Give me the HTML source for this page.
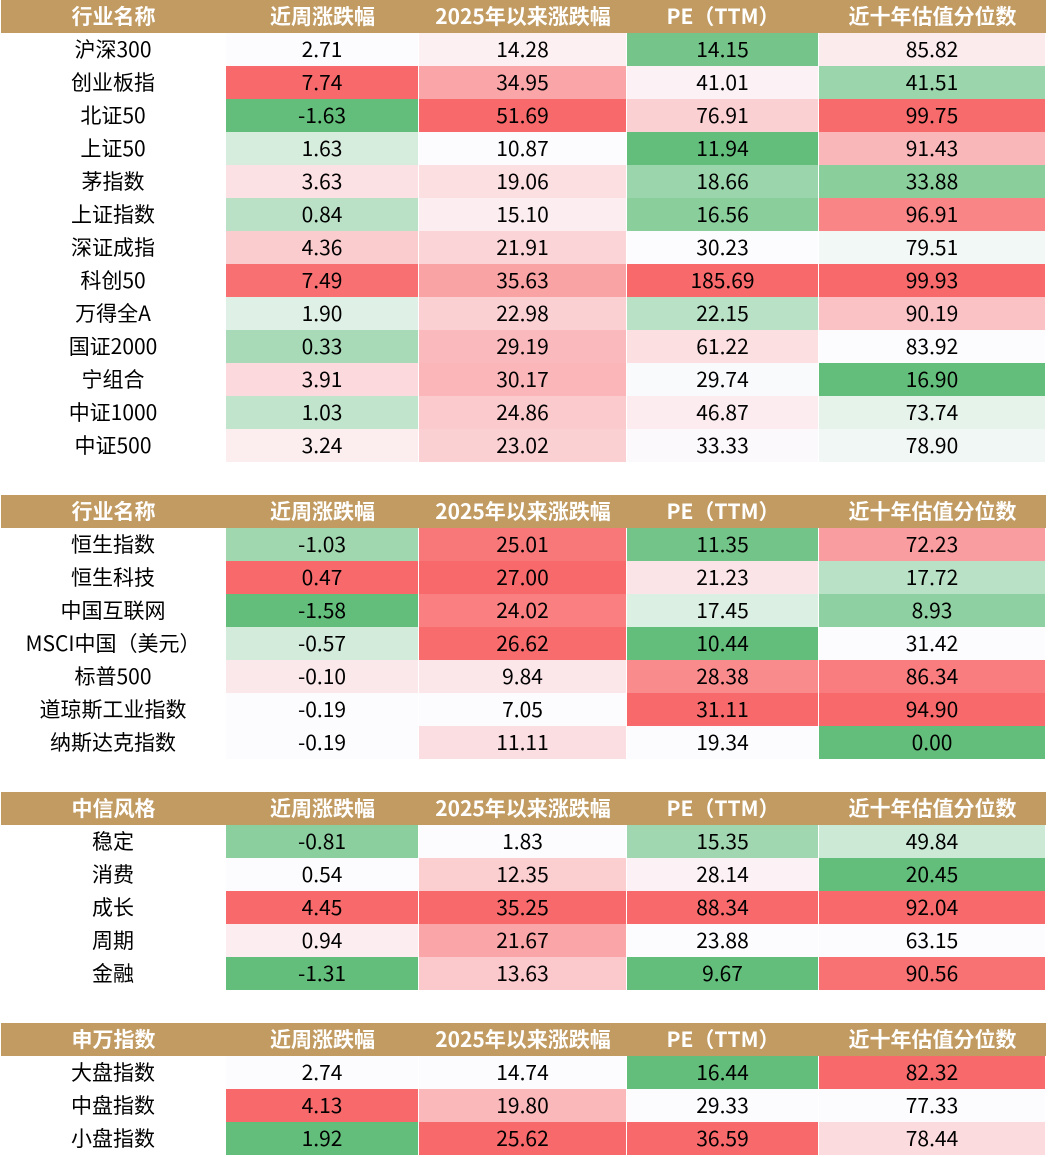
<!DOCTYPE html>
<html><head><meta charset="utf-8">
<style>
body{margin:0;width:1048px;height:1157px;background:#fff;position:relative;overflow:hidden;font-family:"Noto Sans CJK SC","Liberation Sans",sans-serif;}
.c{position:absolute;display:flex;align-items:center;justify-content:center;font-size:21px;line-height:1;color:#000;box-sizing:border-box;white-space:nowrap;}
.h{background:#c19b61;color:#fff;font-weight:bold;}
</style></head><body>
<div id="root"></div>
<script>
const colX=[1,226,419,627,819,1046];
const sectionTops=[0,495,792,1023];
const headers1=["行业名称","近周涨跌幅","2025年以来涨跌幅","PE（TTM）","近十年估值分位数"];
const headers2=["行业名称","近周涨跌幅","2025年以来涨跌幅","PE（TTM）","近十年估值分位数"];
const headers3=["中信风格","近周涨跌幅","2025年以来涨跌幅","PE（TTM）","近十年估值分位数"];
const headers4=["申万指数","近周涨跌幅","2025年以来涨跌幅","PE（TTM）","近十年估值分位数"];
const names1=["沪深300","创业板指","北证50","上证50","茅指数","上证指数","深证成指","科创50","万得全A","国证2000","宁组合","中证1000","中证500"];
const weekly1=[2.71,7.74,-1.63,1.63,3.63,0.84,4.36,7.49,1.90,0.33,3.91,1.03,3.24];
const ytd1=[14.28,34.95,51.69,10.87,19.06,15.10,21.91,35.63,22.98,29.19,30.17,24.86,23.02];
const pe1=[14.15,41.01,76.91,11.94,18.66,16.56,30.23,185.69,22.15,61.22,29.74,46.87,33.33];
const pct1=[85.82,41.51,99.75,91.43,33.88,96.91,79.51,99.93,90.19,83.92,16.90,73.74,78.90];
const names2=["恒生指数","恒生科技","中国互联网","MSCI中国（美元）","标普500","道琼斯工业指数","纳斯达克指数"];
const weekly2=[-1.03,0.47,-1.58,-0.57,-0.10,-0.19,-0.19];
const ytd2=[25.01,27.00,24.02,26.62,9.84,7.05,11.11];
const pe2=[11.35,21.23,17.45,10.44,28.38,31.11,19.34];
const pct2=[72.23,17.72,8.93,31.42,86.34,94.90,0.00];
const names3=["稳定","消费","成长","周期","金融"];
const weekly3=[-0.81,0.54,4.45,0.94,-1.31];
const ytd3=[1.83,12.35,35.25,21.67,13.63];
const pe3=[15.35,28.14,88.34,23.88,9.67];
const pct3=[49.84,20.45,92.04,63.15,90.56];
const names4=["大盘指数","中盘指数","小盘指数"];
const weekly4=[2.74,4.13,1.92];
const ytd4=[14.74,19.80,25.62];
const pe4=[16.44,29.33,36.59];
const pct4=[82.32,77.33,78.44];

// scale type per column: 3 = green-white-red, 2 = white-red
const sections=[
 {h:headers1,n:names1,cols:[weekly1,ytd1,pe1,pct1],sc:[3,2,3,3]},
 {h:headers2,n:names2,cols:[weekly2,ytd2,pe2,pct2],sc:[3,2,3,3]},
 {h:headers3,n:names3,cols:[weekly3,ytd3,pe3,pct3],sc:[3,2,3,3]},
 {h:headers4,n:names4,cols:[weekly4,ytd4,pe4,pct4],sc:[3,2,3,2]}
];
const G=[99,190,123],W=[252,252,255],R=[248,105,107];
function median(a){const s=[...a].sort((x,y)=>x-y);const p=(s.length-1)*0.5;const i=Math.floor(p);return s[i]+(s[Math.min(i+1,s.length-1)]-s[i])*(p-i);}
function mix(a,b,t){return 'rgb('+a.map((v,i)=>Math.round(v+(b[i]-v)*t)).join(',')+')';}
function color(v,arr,type){const mn=Math.min(...arr),mx=Math.max(...arr);
 if(type===2){return mix(W,R,mx===mn?0:(v-mn)/(mx-mn));}
 const md=median(arr);
 if(v<=md){return md===mn?mix(W,W,0):mix(G,W,(v-mn)/(md-mn));}
 return mix(W,R,(v-md)/(mx-md));}
const root=document.getElementById('root');
const RH=33;
function cell(x,y,w,h,txt,cls,bg){const d=document.createElement('div');d.className='c '+cls;
 d.style.left=x+'px';d.style.top=y+'px';d.style.width=w+'px';d.style.height=h+'px';
 if(bg)d.style.background=bg;d.textContent=txt;root.appendChild(d);return d;}
sections.forEach((s,si)=>{
 const top=sectionTops[si];
 s.h.forEach((t,ci)=>{
  const d=cell(colX[ci],top,colX[ci+1]-colX[ci],RH,t,'h');
  
  
 });
 s.n.forEach((nm,ri)=>{
  const y=top+RH*(ri+1);
  const d=cell(0,y,226,RH,nm,'');
  
  
  s.cols.forEach((arr,ci)=>{
   const v=arr[ri];
   const e=cell(colX[ci+1],y,colX[ci+2]-colX[ci+1]-1,RH,v.toFixed(2),'',color(v,arr,s.sc[ci]));
   
   
  });
 });
});
</script>
</body></html>
